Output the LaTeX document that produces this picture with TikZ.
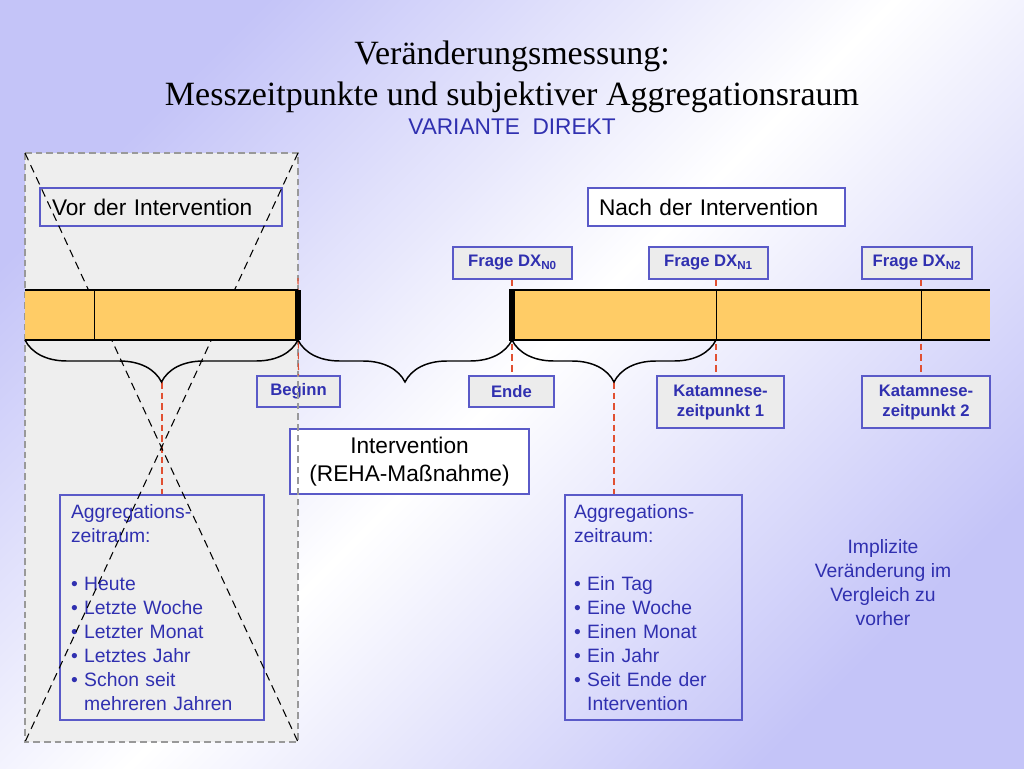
\documentclass[tikz,border=0pt]{standalone}
\usepackage{fontspec}
\setmainfont{Liberation Sans}
\newfontfamily\titlefont{Liberation Serif}
\usetikzlibrary{decorations.pathreplacing}
\definecolor{lavender}{RGB}{196,196,248}
\definecolor{regiongray}{RGB}{238,238,238}
\definecolor{boxgray}{RGB}{236,236,236}
\definecolor{boxblue}{RGB}{90,90,200}
\definecolor{txtblue}{RGB}{48,48,176}
\definecolor{barorange}{RGB}{255,204,102}
\definecolor{markred}{RGB}{225,80,50}

\begin{document}
\begin{tikzpicture}[x=0.75pt,y=-0.75pt]
    \useasboundingbox (0,0) rectangle (1024,768);
    %% background
    \shade[top color=lavender, bottom color=lavender, middle color=white, shading angle=45] (0,0) rectangle (1024,768);
    %% title
    \node (title1) at (512,56) {\titlefont\fontsize{25.5}{30}\selectfont Veränderungsmessung:};
    \node (title2) at (512,97) {\titlefont\fontsize{25.5}{30}\selectfont Messzeitpunkte und subjektiver Aggregationsraum};
    \node (title3) at (512,127) [text=txtblue, font=\fontsize{17}{20}\selectfont] {VARIANTE\ \ DIREKT};
    %% region before the intervention
    \fill[regiongray] (25,153) rectangle (298,742);
    %% boxes
    \tikzstyle{headbox} = [draw=boxblue, line width=0.8pt, inner ysep=0pt, minimum height=28.5pt, align=left, font=\fontsize{17}{21}\selectfont];
    \node (vor) [headbox, text width=163.5pt, inner xsep=9pt] at (161,207) {Vor der Intervention};
    \node (nach) [headbox, fill=white, text width=176.25pt, inner xsep=8.25pt] at (716.5,207) {Nach der Intervention};
    \node (interv) [headbox, fill=white, align=center, minimum width=179.25pt, minimum height=48.75pt] at (409.5,461.5) {Intervention\\(REHA-Maßnahme)};
    \tikzstyle{qbox} = [draw=boxblue, line width=0.8pt, fill=boxgray, inner sep=0pt, minimum height=24pt, align=center, text=txtblue, font=\fontsize{12.5}{15}\selectfont\bfseries];
    \node (n0) [qbox, minimum width=89.25pt] at (512.5,263) {Frage DX\textsubscript{N0}};
    \node (n1) [qbox, minimum width=89.25pt] at (708.5,263) {Frage DX\textsubscript{N1}};
    \node (n2) [qbox, minimum width=82.5pt] at (917,263) {Frage DX\textsubscript{N2}};
    \node (beg) [qbox, minimum width=62.25pt, minimum height=23.25pt] at (298.5,391.5) {Beginn};
    \node (ende) [qbox, minimum width=63.75pt, minimum height=23.25pt] at (511.5,391.5) {Ende};
    \node (kat1) [qbox, minimum width=95.25pt, minimum height=39pt] at (720.5,402) {Katamnese-\\zeitpunkt 1};
    \node (kat2) [qbox, minimum width=96pt, minimum height=39pt] at (926,402) {Katamnese-\\zeitpunkt 2};
    \tikzstyle{aggbox} = [draw=boxblue, line width=0.8pt, inner ysep=0pt, minimum height=168.75pt, align=left, text=txtblue, font=\fontsize{14.5}{18}\selectfont];
    \node (aggl) [aggbox, text width=136.5pt, inner xsep=8.25pt] at (162,607.5) {Aggregations-\\zeitraum:\\[18pt]%
      \textbullet\ Heute\\\textbullet\ Letzte Woche\\\textbullet\ Letzter Monat\\\textbullet\ Letztes Jahr\\%
      \textbullet\ Schon seit\\\phantom{\textbullet\ }mehreren Jahren};
    \node (aggr) [aggbox, text width=119.25pt, inner xsep=6.75pt] at (653.5,607.5) {Aggregations-\\zeitraum:\\[18pt]%
      \textbullet\ Ein Tag\\\textbullet\ Eine Woche\\\textbullet\ Einen Monat\\\textbullet\ Ein Jahr\\%
      \textbullet\ Seit Ende der\\\phantom{\textbullet\ }Intervention};
    \node (impl) [text=txtblue, align=center, font=\fontsize{14.5}{18}\selectfont] at (883,583) {Implizite\\Veränderung im\\Vergleich zu\\vorher};
    \draw[gray!80, line width=0.8pt, dash pattern=on 5pt off 3pt] (25,153) rectangle (298,742);
    %% time marks
    \tikzstyle{reddash} = [markred, line width=0.8pt, dash pattern=on 5pt off 3pt];
    \coordinate (bstart) at (298,278);
    \coordinate (m0) at (512,315);
    \coordinate (m1) at (716,315);
    \coordinate (m2) at (921,315);
    \coordinate (tip1) at (162,382);
    \coordinate (tip3) at (614,382);
    \draw[reddash] (bstart) -- (beg.north);
    \draw[reddash] (m0 |- n0.south) -- (m0 |- ende.north);
    \draw[reddash] (m1 |- n1.south) -- (m1 |- kat1.north);
    \draw[reddash] (m2 |- n2.south) -- (m2 |- kat2.north);
    \draw[reddash] (tip1) -- (aggl.north);
    \draw[reddash] (tip3) -- (tip3 |- aggr.north);
    %% crossed out
    \draw[line width=0.8pt, dash pattern=on 6pt off 4pt] (25,153) -- (298,742) (298,153) -- (25,742);
    %% time bars
    \fill[barorange] (25,290) rectangle (298,340);
    \draw[line width=1.1pt] (25,290) -- (298,290) (25,340) -- (298,340);
    \draw (94,290) -- (94,340);
    \fill (295,290) rectangle (301,340);
    \fill[barorange] (509,290) rectangle (990,340);
    \draw[line width=1.1pt] (509,290) -- (990,290) (509,340) -- (990,340);
    \draw (716,290) -- (716,340) (921,290) -- (921,340);
    \fill (509,290) rectangle (515,340);
    %% braces
    \tikzstyle{brc} = [line width=1.1pt, decorate, decoration={brace, mirror, amplitude=31.5pt}];
    \draw[brc] (25,340) -- (298,340);
    \draw[brc] (298,340) -- (512,340);
    \draw[brc] (512,340) -- (716,340);
\end{tikzpicture}
\end{document}
